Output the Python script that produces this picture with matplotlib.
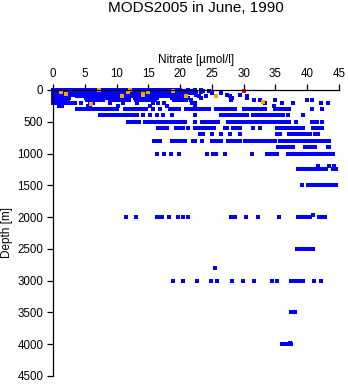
import matplotlib
matplotlib.use("Agg")
import matplotlib.pyplot as plt

# ---------------- data (nitrate [umol/l] per standard depth [m]) ----------------
blue_0 = [0,.5,1,1.5,2,2.5,3,3.5,4,4.5,5,5.5,6,6.5,7,7.5,8,8.5,9,9.5,10,10.5,11,11.5,12,12.5,13,13.5,14,14.5,15,15.5,16,16.5,17,17.5,18,18.5,19,19.5,20,21.3,22.3,23.3]
blue_10 = [0,.5,1,1.5,2,2.5,3,3.5,4,4.5,5,5.5,6,6.5,7,7.5,8,8.5,9,9.5,10,10.5,11,11.5,12,12.5,13,13.5,14,14.5,15,15.5,16,16.5,17,17.5,18,18.5,19,19.5,20,20.5,21,23.6]
blue_20 = [0,.5,1,1.5,2,2.5,3,3.5,4,4.5,5,5.5,6,6.5,7,7.5,8,8.5,9,9.5,10,10.5,11,11.5,12,12.5,13,13.5,14,14.5,15,15.5,16,16.5,17,17.5,18,18.5,19,19.5,20,20.5,21,21.5,22,24.6]
blue_30 = [0,.5,1,1.5,2,2.5,3,3.5,4,4.5,5,5.5,6,6.5,7,7.5,8,8.5,9,9.5,10,10.5,11,11.5,12,12.5,13,13.5,14,14.5,15,15.5,16,16.5,17,17.5,18,18.5,19,19.5,20,21.0,21.6,22.5,23.3]
blue_50 = [0,.5,1,1.5,2,2.5,3.5,4,4.5,5,5.5,6,6.5,7,7.5,8,9,9.5,10,10.5,11,11.5,12,12.5,13,13.5,14,14.5,15,15.5,16,16.5,17,17.5,18,18.5,19,19.5,20,20.5,21,21.5,22,22.5,25.0,26.5]
blue_75 = [0,.5,1,1.5,2,2.5,3,3.5,4,4.5,5.5,6,6.5,7,7.5,8,8.5,9,9.5,10.5,11,11.5,12,12.5,13.8,14.3,14.8,15.3,15.8,16.3,16.8,17.3,17.8,18.3,18.8,19.3,19.8,20.3,20.8,22.5,27.3,29.4]
blue_100 = [0,.5,1,1.5,2,2.5,3.8,4.3,4.8,5.3,5.8,6.3,6.8,7.3,7.8,8.3,9.3,9.8,10.3,10.8,11.3,11.8,12.3,12.8,13.3,13.8,14.3,14.8,16,16.5,17,17.5,18,18.5,19,19.5,20,20.5,23.0,24.0,27.9,30.6]
blue_125 = [0,.5,1,1.5,2,2.5,5.2,5.7,6.2,6.7,7.2,7.7,8.2,8.7,9.1,10.1,10.6,11.1,11.6,12.9,13.4,13.9,14.4,14.9,15.4,15.9,16.4,18.8,19.3,19.8,20.3,20.8,21.3,23.3,28.2,30.6]
blue_150 = [0,.5,1,1.5,2,2.4,5.4,5.9,6.4,6.9,7.4,7.9,8.9,9.4,9.9,10.4,10.9,11.4,11.9,13.0,13.5,14.0,14.5,15.0,15.5,16.0,19.0,19.5,20.0,20.5,21.0,21.7,28.0,31.7,32.5,34.9,40.0,40.7]
blue_200 = [0,.5,1,1.5,2,2.5,3,3.5,4.4,5.8,6.3,9.0,11.0,13.2,15.7,16.5,17.5,21.8,22.3,33.3,36.0,37.7,42.2,43.2]
blue_250 = [0.9,1.4,5.5,5.8,10.2,15.2,18.0,22.3,34.7]
blue_300 = [3.7,4.2,4.7,5.2,5.7,6.2,6.7,7.2,7.7,8.2,8.7,9.2,9.7,10.0,11.3,11.8,12.3,12.8,13.3,13.8,14.3,14.7,15.7,16.8,18.4,18.9,19.4,19.9,21.0,21.5,22.0,22.5,23.0,23.5,24.0,24.5,25.7,26.2,26.7,27.3,27.8,28.3,28.6,30.0,30.5,31.0,31.4,32.0,32.5,33.0,33.3,35.0,35.5,36.0,36.5,36.8,37.2,40.7,42.4]
blue_400 = [7.4,7.9,8.5,8.9,9.4,9.9,10.5,11.0,11.5,12.0,12.5,13.0,13.2,14.1,15.2,16.3,17.3,18.8,22.3,26.5,27.0,27.3,28.0,28.6,29.1,29.6,30.2,30.6,31.4,31.9,32.4,32.8,33.3,33.8,34.3,34.8,35.3,35.8,36.2,36.9,39.3]
blue_500 = [11.8,12.3,12.9,13.4,13.6,14.4,14.9,15.4,15.9,16.4,16.9,17.3,18.0,18.5,19.0,19.5,20.0,20.5,20.7,22.3,23.4,23.9,24.2,24.7,25.2,25.7,25.9,27.5,28.0,28.5,28.9,29.4,29.7,30.2,30.7,31.2,31.7,32.2,32.7,33.2,33.6,34.1,34.6,35.1,35.6,36.1,36.6,37.2,38.3,40.7,41.2,41.5,42.4]
blue_600 = [16.5,17.0,17.5,17.9,19.4,19.9,20.4,21.2,22.3,22.8,23.4,23.9,24.2,24.9,25.4,27.0,27.3,28.3,28.9,29.4,31.4,32.5,35.2,35.7,36.2,36.7,37.2,37.7,38.2,38.7,39.3,40.9,41.4,41.7,42.4]
blue_700 = [23.1,23.6,25.0,26.5,27.8,29.4,35.2,35.7,37.2,37.7,38.2,38.7,39.2,39.7,40.2,40.4,41.2,41.7]
blue_800 = [15.9,16.4,16.8,18.8,19.4,19.6,20.1,20.4,20.7,22.0,22.3,23.4,25.0,25.5,26.0,26.5,27.5,28.0,28.5,29.0,29.5,30.2,30.6,30.9,31.4,31.9,32.4,32.8,33.0,33.5,34.0,34.5,35.0,35.7,36.0,36.5,37.0,37.5,38.0,38.5,39.0,39.5,40.0,40.4,40.9,41.4,41.9,42.4,42.9,43.5]
blue_900 = [35.4,35.9,36.4,36.9,37.4,37.7,39.6,40.1,40.6,41.2,43.2,43.5]
blue_1000 = [16.3,17.5,18.5,19.9,24.2,25.2,25.7,27.0,31.3,33.6,34.1,34.6,35.2,36.9,37.4,37.9,38.4,38.9,39.4,39.9,40.4,40.9,41.4,41.9,42.4,42.9,43.4,44.0]
blue_1200 = [41.7,43.5,44.2]
blue_1250 = [38.5,39.0,39.5,40.0,40.5,41.0,41.5,42.0,42.5,43.0,44.0,44.6]
blue_1500 = [39.1,40.2,40.6,41.2,41.7,42.2,42.6,43.3,43.8,44.2,44.6]
blue_1960 = [40.9]
blue_2000 = [11.5,13.0,16.3,16.7,17.1,18.2,19.7,20.4,21.2,28.0,28.3,28.6,30.3,32.2,35.5,38.5,38.9,39.3,39.7,40.1,40.5,41.8,42.3,42.8]
blue_2500 = [38.4,38.8,39.2,39.6,40.3,40.9]
blue_2800 = [25.5]
blue_3000 = [18.9,20.4,22.7,24.9,25.8,28.2,29.9,31.7,34.4,35.3,37.5,37.9,38.3,38.7,39.1,39.3,41.1,42.2]
blue_3500 = [37.5,38.0]
blue_4000 = [36.1,36.6,36.8,37.2,37.5]
blue_3980 = [37.3]

blue_levels = {0: blue_0, 10: blue_10, 20: blue_20, 30: blue_30, 50: blue_50, 75: blue_75,
               100: blue_100, 125: blue_125, 150: blue_150, 200: blue_200, 250: blue_250,
               300: blue_300, 400: blue_400, 500: blue_500, 600: blue_600, 700: blue_700,
               800: blue_800, 900: blue_900, 1000: blue_1000, 1200: blue_1200, 1250: blue_1250,
               1500: blue_1500, 1960: blue_1960, 2000: blue_2000, 2500: blue_2500, 2800: blue_2800,
               3000: blue_3000, 3500: blue_3500, 3980: blue_3980, 4000: blue_4000}

orange_nitrate = [1.2, 2.0, 7.3, 6.0, 10.8, 11.8, 12.1, 14.1, 14.2, 14.9, 18.9, 21.0, 25.7, 33.0]
orange_depth   = [30,  57,  5,   215, 100,  30,   5,    83,   57,   30,   20,   100,  94,   190]
red_nitrate = [30.0]
red_depth = [10]

x_ticks = [0, 5, 10, 15, 20, 25, 30, 35, 40, 45]
y_ticks = [0, 500, 1000, 1500, 2000, 2500, 3000, 3500, 4000, 4500]

# ---------------- figure ----------------
plt.rcParams['font.family'] = ['Liberation Sans', 'DejaVu Sans']
fig = plt.figure(figsize=(3.48, 3.84), dpi=100)
ax = fig.add_axes([53/348, 1-376/384, 286/348, 286/384])

bx, by = [], []
for d, vals in blue_levels.items():
    bx.extend(vals)
    by.extend([d]*len(vals))
ms = 2.3
kw = dict(linestyle='none', marker='s', markersize=ms, markeredgewidth=0,
          clip_on=False, antialiased=False)
ax.plot(bx, by, color='#0000ff', **kw)
ax.plot(orange_nitrate, orange_depth, color='#ffa500', **kw)
ax.plot(red_nitrate, red_depth, color='#ff0000', **kw)

ax.set_xlim(0, 45)
ax.set_ylim(4500, 0)
ax.set_xticks(x_ticks)
ax.set_yticks(y_ticks)
ax.xaxis.tick_top()
ax.xaxis.set_label_position('top')
for s in ['right', 'bottom']:
    ax.spines[s].set_visible(False)
for s in ['left', 'top']:
    ax.spines[s].set_linewidth(0.9)
ax.tick_params(axis='both', direction='out', length=4, width=0.9, labelsize=8.3, pad=3)
ax.set_xlabel('Nitrate [µmol/l]', fontsize=8.5, labelpad=4)
ax.set_ylabel('Depth [m]', fontsize=8.5, labelpad=3)
fig.suptitle('MODS2005 in June, 1990', fontsize=11, x=196/348, y=1-1/384, va='top')

fig.savefig('out.png', dpi=100)
